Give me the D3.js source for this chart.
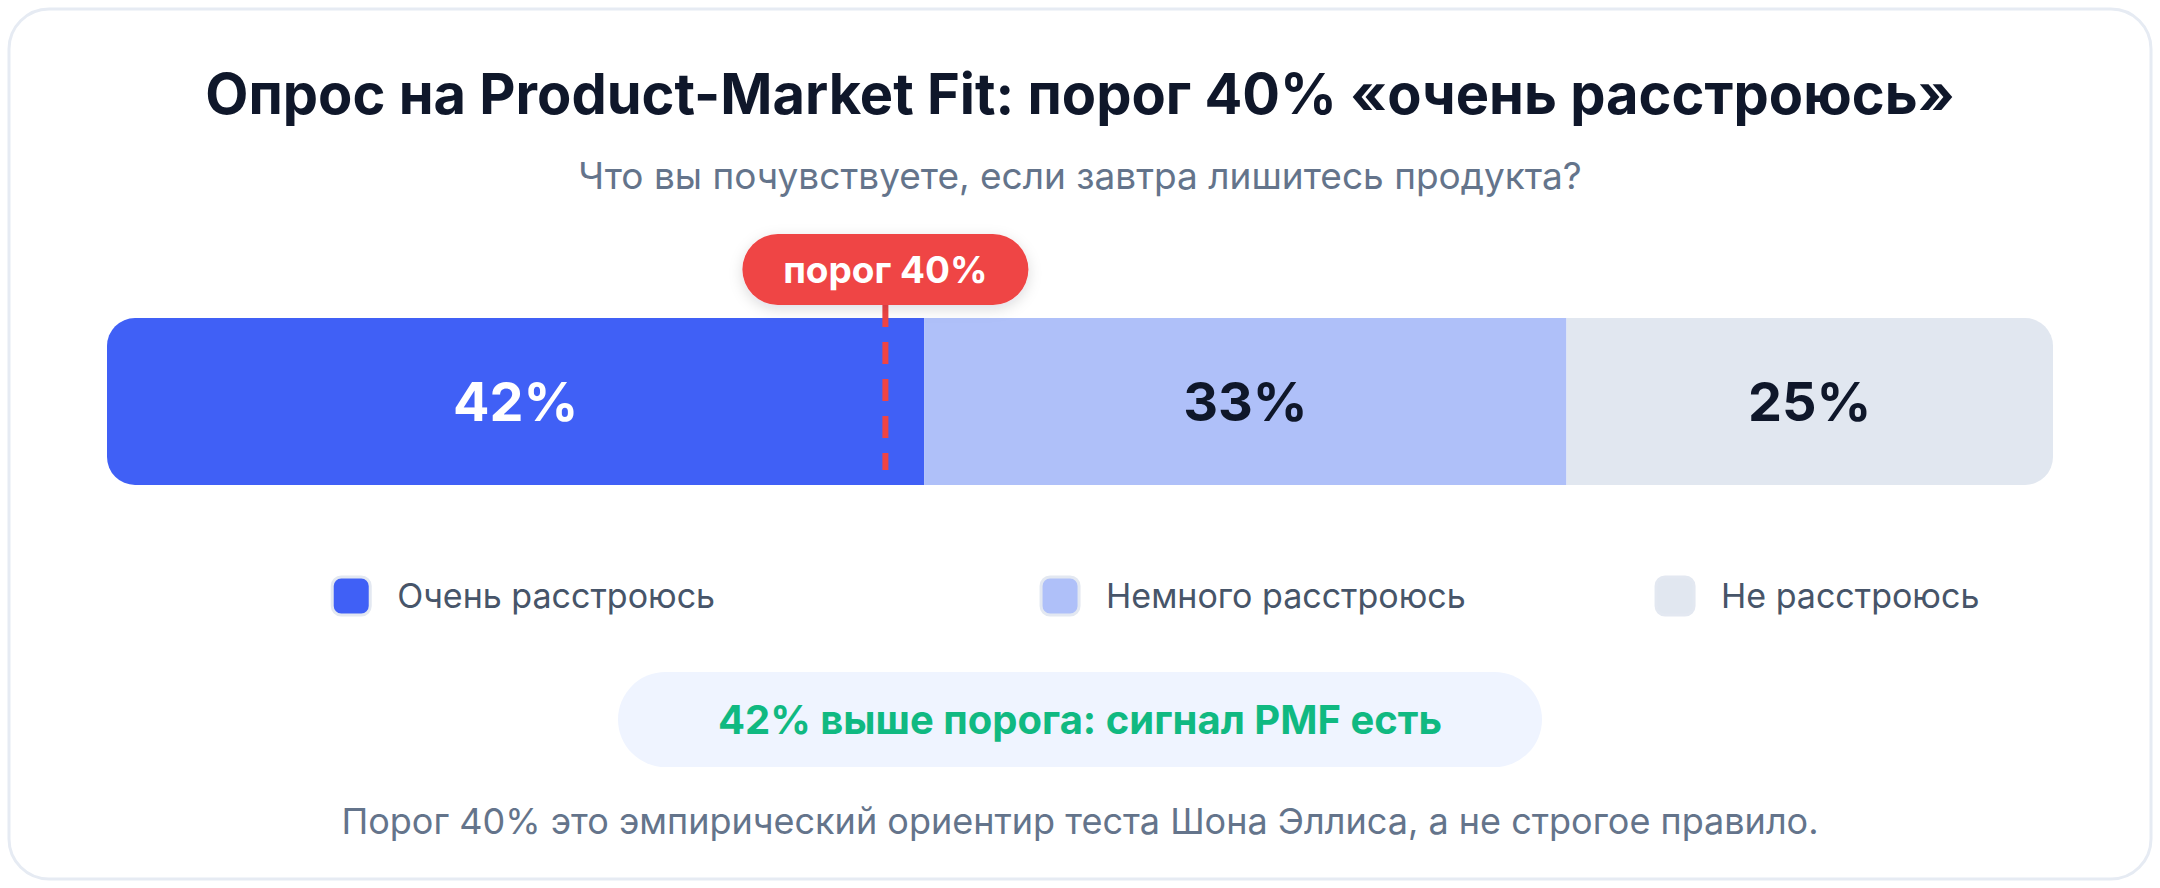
<!DOCTYPE html>
<html>
<head>
<meta charset="utf-8">
<script src="https://cdn.jsdelivr.net/npm/d3@7"></script>
<style>
  html, body { margin: 0; padding: 0; background: #ffffff; }
  svg { display: block; font-family: Inter, "Noto Sans", sans-serif; }
</style>
</head>
<body>
<div id="chart"></div>
<script>
var categories = ["Очень расстроюсь", "Немного расстроюсь", "Не расстроюсь"];
var values = [42, 33, 25];
var colors = ["#4060f6", "#afc0f9", "#e1e7f0"];
var labelColors = ["#ffffff", "#0f172a", "#0f172a"];
var threshold = 40;
var thresholdLabel = "порог 40%";
var title = "Опрос на Product-Market Fit: порог 40% «очень расстроюсь»";
var subtitle = "Что вы почувствуете, если завтра лишитесь продукта?";
var verdict = "42% выше порога: сигнал PMF есть";
var footnote = "Порог 40% это эмпирический ориентир теста Шона Эллиса, а не строгое правило.";

var width = 2160, height = 888,
    bar = {left: 107, right: 2053, top: 318, height: 167, radius: 28};

var svg = d3.select("#chart").append("svg")
    .attr("width", width)
    .attr("height", height);

var defs = svg.append("defs");

var shadow = defs.append("filter")
    .attr("id", "pillShadow")
    .attr("x", "-30%").attr("y", "-60%")
    .attr("width", "160%").attr("height", "220%");
shadow.append("feDropShadow")
    .attr("dx", 0).attr("dy", 4)
    .attr("stdDeviation", 7)
    .attr("flood-color", "#0f172a")
    .attr("flood-opacity", 0.14);

// card
svg.append("rect")
    .attr("x", 9).attr("y", 9)
    .attr("width", width - 18).attr("height", height - 18)
    .attr("rx", 40)
    .attr("fill", "#ffffff")
    .attr("stroke", "#e6ebf3")
    .attr("stroke-width", 3);

svg.append("text")
    .attr("x", width / 2).attr("y", 114)
    .attr("text-anchor", "middle")
    .style("font-size", "56px").style("font-weight", 700)
    .attr("fill", "#0f172a")
    .text(title);

svg.append("text")
    .attr("x", width / 2).attr("y", 189)
    .attr("text-anchor", "middle")
    .style("font-size", "37px")
    .attr("fill", "#64748b")
    .text(subtitle);

// stacked bar
var x = d3.scaleLinear()
    .domain([0, d3.sum(values)])
    .range([bar.left, bar.right]);

var stacked = [], acc = 0;
values.forEach(function(v, i) {
    stacked.push({cat: categories[i], value: v, x0: acc, x1: acc + v, i: i});
    acc += v;
});

defs.append("clipPath")
    .attr("id", "barClip")
    .append("rect")
    .attr("x", x(0)).attr("y", bar.top)
    .attr("width", x(acc) - x(0)).attr("height", bar.height)
    .attr("rx", bar.radius);

var barG = svg.append("g").attr("clip-path", "url(#barClip)");

barG.selectAll("rect.seg")
    .data(stacked)
    .enter().append("rect")
    .attr("class", "seg")
    .attr("x", function(d) { return x(d.x0); })
    .attr("y", bar.top)
    .attr("width", function(d) { return x(d.x1) - x(d.x0); })
    .attr("height", bar.height)
    .attr("fill", function(d) { return colors[d.i]; });

svg.selectAll("text.val")
    .data(stacked)
    .enter().append("text")
    .attr("class", "val")
    .attr("x", function(d) { return (x(d.x0) + x(d.x1)) / 2; })
    .attr("y", bar.top + bar.height / 2)
    .attr("dy", "0.36em")
    .attr("text-anchor", "middle")
    .style("font-size", "54px").style("font-weight", 700)
    .attr("fill", function(d) { return labelColors[d.i]; })
    .text(function(d) { return d.value + "%"; });

// threshold marker
svg.append("line")
    .attr("x1", x(threshold)).attr("x2", x(threshold))
    .attr("y1", 300).attr("y2", bar.top + bar.height - 15)
    .attr("stroke", "#ef4444")
    .attr("stroke-width", 6)
    .attr("stroke-dasharray", "22 15")
    .attr("stroke-dashoffset", -5);

var pill = svg.append("g")
    .attr("transform", "translate(" + x(threshold) + ",270)");
pill.append("rect")
    .attr("x", -143).attr("y", -36)
    .attr("width", 286).attr("height", 71)
    .attr("rx", 35.5)
    .attr("fill", "#ef4444")
    .attr("filter", "url(#pillShadow)");
pill.append("text")
    .attr("text-anchor", "middle")
    .attr("dy", "0.36em")
    .style("font-size", "37px").style("font-weight", 700)
    .attr("fill", "#ffffff")
    .text(thresholdLabel);

// legend, each item centred under its segment
var legend = svg.selectAll("g.legend")
    .data(stacked)
    .enter().append("g")
    .attr("class", "legend");

legend.append("rect")
    .attr("width", 38).attr("height", 38)
    .attr("y", 577)
    .attr("rx", 9)
    .attr("fill", function(d) { return colors[d.i]; })
    .attr("stroke", "#e3e8f1")
    .attr("stroke-width", 3);

legend.append("text")
    .attr("x", 65)
    .attr("y", 596)
    .attr("dy", "0.36em")
    .style("font-size", "34px")
    .attr("fill", "#475569")
    .text(function(d) { return d.cat; });

legend.attr("transform", function(d) {
    var w = this.getBBox().width;
    return "translate(" + ((x(d.x0) + x(d.x1)) / 2 - w / 2 + 8) + ",0)";
});

// verdict pill
var verdictG = svg.append("g")
    .attr("transform", "translate(" + width / 2 + ",720)");
verdictG.append("rect")
    .attr("x", -462).attr("y", -48)
    .attr("width", 924).attr("height", 95)
    .attr("rx", 47.5)
    .attr("fill", "#eff4ff");
verdictG.append("text")
    .attr("text-anchor", "middle")
    .attr("dy", "0.36em")
    .style("font-size", "40px").style("font-weight", 700)
    .attr("fill", "#10b981")
    .text(verdict);

svg.append("text")
    .attr("x", width / 2).attr("y", 834)
    .attr("text-anchor", "middle")
    .style("font-size", "36px")
    .attr("fill", "#64748b")
    .text(footnote);
</script>
</body>
</html>
